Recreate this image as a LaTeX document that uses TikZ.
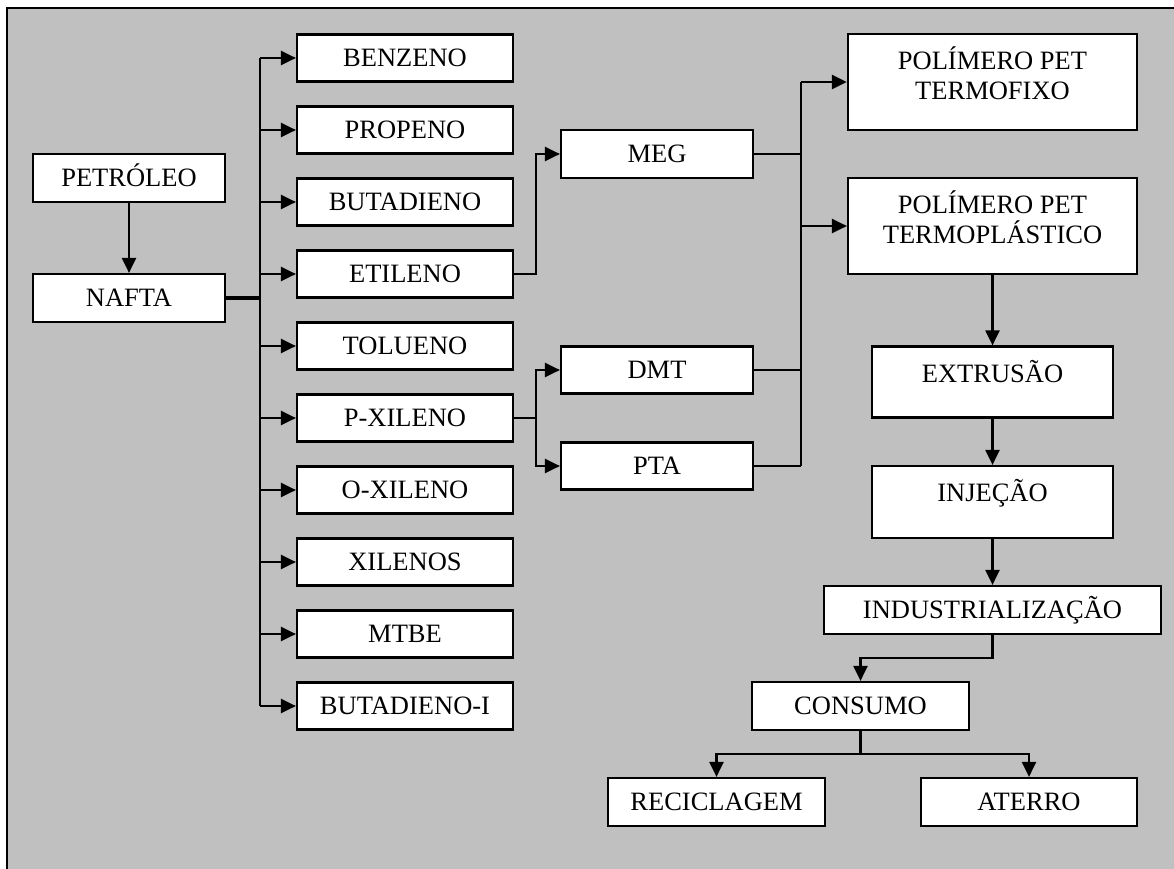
\documentclass[tikz,border=0pt]{standalone}
\usepackage{fontspec}
\setmainfont{Liberation Serif}
\usetikzlibrary{arrows.meta,calc}
\definecolor{bgsilver}{HTML}{C0C0C0}
\begin{document}
\begin{tikzpicture}[x=1pt,y=-1pt,
  box/.style={draw=black,fill=white,line width=2.2pt,inner sep=0pt,
    font=\fontsize{26.5}{30}\selectfont,text height=17pt,text depth=0pt},
  lbl/.style={inner sep=0pt,font=\fontsize{26.5}{30}\selectfont,text height=17pt,text depth=0pt},
  conn/.style={line width=2.2pt,line join=miter},
  thickconn/.style={line width=3.6pt},
  arr/.style={line width=2.2pt,-{Triangle[length=15pt,width=14pt]}}]
\useasboundingbox (0,0) rectangle (1174,869);
\fill[bgsilver] (7,8) rectangle (1174,869);
\draw[line width=2.4pt] (7,869) -- (7,8) -- (1174,8);

% left
\node[box,minimum width=192pt,minimum height=48pt] (petroleo) at (129,178) {PETRÓLEO};
\node[box,minimum width=192pt,minimum height=48pt] (nafta) at (129,298) {NAFTA};

% products column
\foreach \n/\t/\y in {benzeno/BENZENO/58, propeno/PROPENO/130, butadieno/BUTADIENO/202,
  etileno/ETILENO/274, tolueno/TOLUENO/346, pxileno/P-XILENO/418, oxileno/O-XILENO/490,
  xilenos/XILENOS/562, mtbe/MTBE/634, butadienoi/BUTADIENO-I/706}
  \node[box,minimum width=216pt,minimum height=47pt] (\n) at (405,\y) {\t};

% intermediates
\node[box,minimum width=192pt,minimum height=48pt] (meg) at (657,154) {MEG};
\node[box,minimum width=192pt,minimum height=47pt] (dmt) at (657,370) {DMT};
\node[box,minimum width=192pt,minimum height=47pt] (pta) at (657,466) {PTA};

% polymers
\node[box,minimum width=289pt,minimum height=96pt] (termofixo) at (992.5,82) {};
\node[lbl] (termofixo-a) at (992.5,61.5) {POLÍMERO PET};
\node[lbl] (termofixo-b) at (992.5,91.5) {TERMOFIXO};
\node[box,minimum width=289pt,minimum height=96pt] (termoplastico) at (992.5,226) {};
\node[lbl] (termoplastico-a) at (992.5,205) {POLÍMERO PET};
\node[lbl] (termoplastico-b) at (992.5,235) {TERMOPLÁSTICO};

\node[box,minimum width=241pt,minimum height=71pt] (extrusao) at (992.5,382) {};
\node[lbl] (extrusao-t) at (992.5,373.5) {EXTRUSÃO};
\node[box,minimum width=241pt,minimum height=72pt] (injecao) at (992.5,502) {};
\node[lbl] (injecao-t) at (992.5,493) {INJEÇÃO};
\node[box,minimum width=337pt,minimum height=48pt] (industrializacao) at (992.5,610) {INDUSTRIALIZAÇÃO};
\node[box,minimum width=217pt,minimum height=48pt] (consumo) at (860.5,706) {CONSUMO};
\node[box,minimum width=217pt,minimum height=48pt] (reciclagem) at (716.5,802) {RECICLAGEM};
\node[box,minimum width=216pt,minimum height=48pt] (aterro) at (1029,802) {ATERRO};

% connectors
\draw[arr] (petroleo.south) -- (nafta.north);
\coordinate (trunk) at (260,298);
\draw[thickconn] (nafta.east) -- (trunk);
\draw[line width=2.8pt] (trunk |- benzeno.west) -- (trunk |- butadienoi.west);
\foreach \n in {benzeno,propeno,butadieno,etileno,tolueno,pxileno,oxileno,xilenos,mtbe,butadienoi}
  \draw[arr] (trunk |- \n.west) -- (\n.west);

\coordinate (j1) at (536,274);
\draw[arr] (etileno.east) -- (j1) |- (meg.west);
\coordinate (j2) at (536,418);
\draw[conn] (pxileno.east) -- (j2);
\draw[arr] (j2) |- (dmt.west);
\draw[arr] (j2) |- (pta.west);

\coordinate (bus) at (801,0);
\draw[conn] (meg.east) -- (meg.east -| bus);
\draw[conn] (dmt.east) -- (dmt.east -| bus);
\draw[conn] (pta.east) -- (pta.east -| bus);
\draw[line width=2.6pt] (bus |- termofixo.west) -- (bus |- pta.east);
\draw[arr,line width=2.8pt] (bus |- termofixo.west) -- (termofixo.west);
\draw[arr] (bus |- termoplastico.west) -- (termoplastico.west);

\draw[arr] (termoplastico.south) -- (extrusao.north);
\draw[arr] (extrusao.south) -- (injecao.north);
\draw[arr] (injecao.south) -- (industrializacao.north);
\coordinate (k1) at (992.5,658);
\draw[arr] (industrializacao.south) -- (k1) -| (consumo.north);
\coordinate (k2) at (860.5,754);
\draw[conn] (consumo.south) -- (k2);
\draw[arr] (k2) -| (reciclagem.north);
\draw[arr] (k2) -| (aterro.north);
\end{tikzpicture}
\end{document}
